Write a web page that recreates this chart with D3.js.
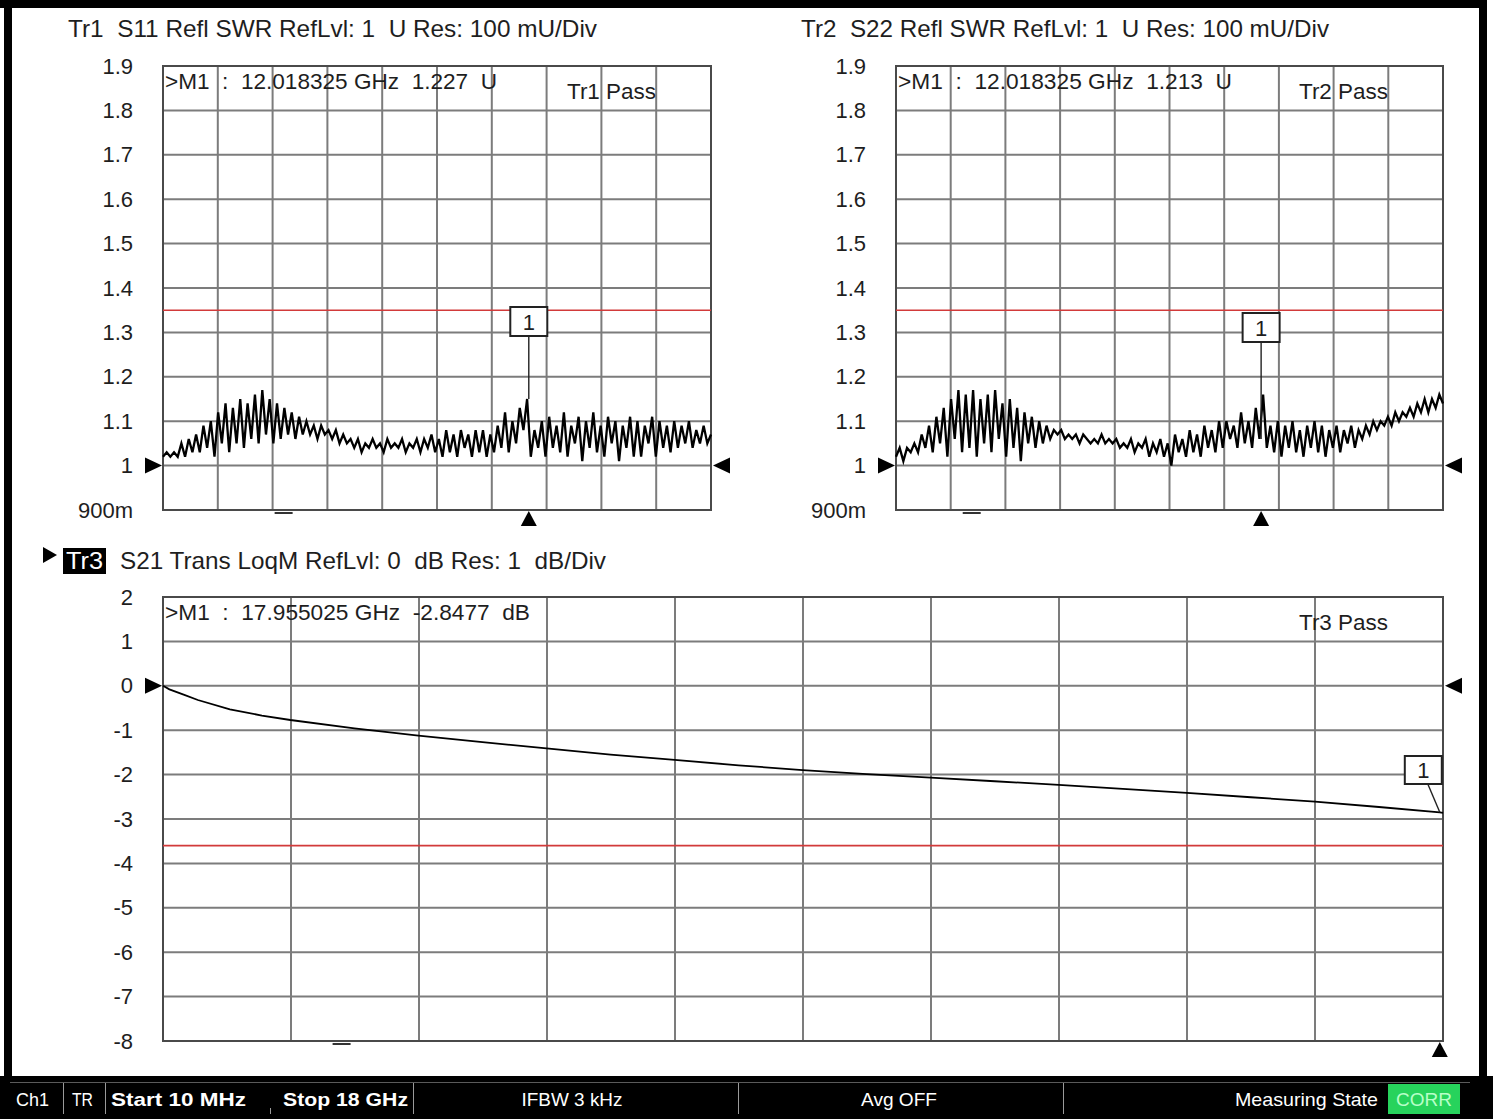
<!DOCTYPE html>
<html>
<head>
<meta charset="utf-8">
<script src="https://cdn.jsdelivr.net/npm/d3@7"></script>
<style>
body { margin: 0; background: #fff; }
svg { display: block; font-family: "Liberation Sans", Arial, sans-serif; }
text { white-space: pre; }
</style>
</head>
<body>
<div id="chart"></div>
<script>
/* sweep */
const START_GHZ = 0.01;
const STOP_GHZ = 18;

/* y axis ticks */
const swr_ticks = [1.9, 1.8, 1.7, 1.6, 1.5, 1.4, 1.3, 1.2, 1.1, 1.0, 0.9];
const swr_labels = ['1.9', '1.8', '1.7', '1.6', '1.5', '1.4', '1.3', '1.2', '1.1', '1', '900m'];
const db_ticks = [2, 1, 0, -1, -2, -3, -4, -5, -6, -7, -8];
const db_labels = ['2', '1', '0', '-1', '-2', '-3', '-4', '-5', '-6', '-7', '-8'];

/* S11 SWR, 150 sweep points */
const s11_swr = [
  1.02, 1.03, 1.02, 1.03, 1.02, 1.05, 1.02, 1.06, 1.03, 1.07,
  1.03, 1.09, 1.04, 1.10, 1.02, 1.12, 1.05, 1.14, 1.03, 1.13,
  1.05, 1.15, 1.04, 1.14, 1.06, 1.16, 1.05, 1.17, 1.07, 1.15,
  1.05, 1.14, 1.06, 1.13, 1.07, 1.12, 1.06, 1.11, 1.07, 1.10,
  1.07, 1.09, 1.06, 1.09, 1.07, 1.08, 1.06, 1.08, 1.05, 1.07,
  1.05, 1.06, 1.04, 1.06, 1.03, 1.05, 1.04, 1.06, 1.04, 1.05,
  1.03, 1.06, 1.04, 1.05, 1.04, 1.06, 1.03, 1.05, 1.04, 1.06,
  1.03, 1.06, 1.04, 1.07, 1.03, 1.06, 1.02, 1.08, 1.03, 1.07,
  1.02, 1.08, 1.04, 1.07, 1.02, 1.08, 1.03, 1.08, 1.02, 1.07,
  1.03, 1.09, 1.04, 1.12, 1.03, 1.10, 1.05, 1.13, 1.08, 1.15,
  1.02, 1.08, 1.04, 1.10, 1.02, 1.11, 1.04, 1.09, 1.03, 1.12,
  1.02, 1.09, 1.05, 1.11, 1.01, 1.10, 1.04, 1.12, 1.03, 1.09,
  1.02, 1.11, 1.05, 1.10, 1.01, 1.09, 1.04, 1.11, 1.02, 1.10,
  1.02, 1.09, 1.05, 1.11, 1.02, 1.10, 1.04, 1.09, 1.03, 1.10,
  1.04, 1.09, 1.05, 1.10, 1.04, 1.08, 1.05, 1.09, 1.05, 1.07
];

/* S22 SWR, 150 sweep points */
const s22_swr = [
  1.02, 1.04, 1.01, 1.04, 1.03, 1.05, 1.03, 1.07, 1.04, 1.09,
  1.03, 1.11, 1.05, 1.13, 1.02, 1.15, 1.06, 1.17, 1.03, 1.16,
  1.04, 1.17, 1.02, 1.15, 1.05, 1.16, 1.03, 1.17, 1.06, 1.14,
  1.02, 1.15, 1.04, 1.13, 1.01, 1.12, 1.05, 1.11, 1.04, 1.10,
  1.05, 1.09, 1.06, 1.08, 1.07, 1.08, 1.06, 1.07, 1.06, 1.07,
  1.05, 1.07, 1.06, 1.05, 1.06, 1.05, 1.07, 1.05, 1.06, 1.05,
  1.06, 1.04, 1.05, 1.04, 1.06, 1.03, 1.05, 1.04, 1.06, 1.02,
  1.05, 1.03, 1.06, 1.02, 1.05, 1.00, 1.07, 1.03, 1.06, 1.02,
  1.08, 1.03, 1.07, 1.02, 1.09, 1.04, 1.08, 1.03, 1.10, 1.04,
  1.10, 1.06, 1.09, 1.04, 1.12, 1.05, 1.10, 1.04, 1.13, 1.06,
  1.16, 1.04, 1.09, 1.03, 1.10, 1.02, 1.09, 1.04, 1.10, 1.03,
  1.08, 1.02, 1.09, 1.04, 1.10, 1.03, 1.09, 1.02, 1.08, 1.04,
  1.09, 1.03, 1.08, 1.05, 1.09, 1.04, 1.08, 1.06, 1.09, 1.07,
  1.10, 1.08, 1.10, 1.09, 1.11, 1.09, 1.12, 1.10, 1.12, 1.11,
  1.13, 1.11, 1.14, 1.12, 1.15, 1.12, 1.15, 1.13, 1.16, 1.14
];

/* S21 LogMag */
const s21_freq = [0.01, 0.1, 0.3, 0.5, 0.95, 1.4, 1.8, 2.7, 3.6, 4.5, 5.4, 6.3, 7.2,
                  8.1, 9.0, 9.9, 10.8, 11.7, 12.6, 13.5, 14.4, 15.3, 16.2, 17.1, 17.955, 18];
const s21_db = [0, -0.08, -0.2, -0.32, -0.53, -0.67, -0.77, -0.96, -1.12, -1.27, -1.41, -1.55, -1.67,
                -1.79, -1.9, -1.99, -2.07, -2.15, -2.23, -2.32, -2.41, -2.51, -2.61, -2.73, -2.85, -2.86];

/* limit lines */
const limit_values = [1.35, 1.35, -3.6];

/* markers */
const marker_freq = [12.018325, 12.018325, 17.955025];
const marker_text = ['>M1  :  12.018325 GHz  1.227  U', '>M1  :  12.018325 GHz  1.213  U',
                     '>M1  :  17.955025 GHz  -2.8477  dB'];
const dash_freq = [3.97, 2.5, 2.52];
const pass_text = ['Tr1 Pass', 'Tr2 Pass', 'Tr3 Pass'];
const titles = ['Tr1  S11 Refl SWR RefLvl: 1  U Res: 100 mU/Div',
                'Tr2  S22 Refl SWR RefLvl: 1  U Res: 100 mU/Div',
                'S21 Trans LoqM RefLvl: 0  dB Res: 1  dB/Div'];
const ref_levels = [1, 1, 0];

const status_items = ['Ch1', 'TR', 'Start 10 MHz', 'Stop 18 GHz', 'IFBW 3 kHz', 'Avg OFF', 'Measuring State', 'CORR'];

const W = 1493, H = 1119;
const svg = d3.select('#chart').append('svg').attr('width', W).attr('height', H);
svg.append('rect').attr('width', W).attr('height', H).attr('fill', '#fff');

const sweep = d3.range(150).map(i => START_GHZ + i * (STOP_GHZ - START_GHZ) / 149);

let panels = [
  {left: 163, right: 711, top: 66, bottom: 510, domain: [0.9, 1.9], ticks: swr_ticks, labels: swr_labels,
   freq: sweep, vals: s11_swr, sw: 2.3, titleX: 68, titleW: 529, textX: 165, textW: 332, passX: 567, boxY: 307},
  {left: 896, right: 1443, top: 66, bottom: 510, domain: [0.9, 1.9], ticks: swr_ticks, labels: swr_labels,
   freq: sweep, vals: s22_swr, sw: 2.3, titleX: 801, titleW: 528, textX: 898, textW: 334, passX: 1299, boxY: 313},
  {left: 163, right: 1443, top: 597, bottom: 1041, domain: [-8, 2], ticks: db_ticks, labels: db_labels,
   freq: s21_freq, vals: s21_db, sw: 1.8, titleX: 120, titleW: 486, textX: 165, textW: 365, passX: 1299, boxY: 756}
];

const GRID = '#7c7c7c';
const TXT = '#1e1e1e';

const drawPanel = (p, k) => {
  let x = d3.scaleLinear().domain([START_GHZ, STOP_GHZ]).range([p.left, p.right]);
  let y = d3.scaleLinear().domain(p.domain).range([p.bottom, p.top]);
  let g = svg.append('g');

  // grid
  let vx = d3.range(11).map(i => START_GHZ + i * (STOP_GHZ - START_GHZ) / 10);
  g.selectAll('.vg').data(vx).enter().append('line')
    .attr('x1', d => x(d)).attr('x2', d => x(d)).attr('y1', p.top).attr('y2', p.bottom)
    .attr('stroke', GRID).attr('stroke-width', 2);
  g.selectAll('.hg').data(p.ticks).enter().append('line')
    .attr('x1', p.left).attr('x2', p.right).attr('y1', d => y(d)).attr('y2', d => y(d))
    .attr('stroke', GRID).attr('stroke-width', 2);
  g.append('rect').attr('x', p.left).attr('y', p.top)
    .attr('width', p.right - p.left).attr('height', p.bottom - p.top)
    .attr('fill', 'none').attr('stroke', '#4a4a4a').attr('stroke-width', 2);

  // y labels
  let ax = d3.axisLeft(y).tickValues(p.ticks)
    .tickFormat((d, i) => p.labels[i]).tickSize(0).tickPadding(30);
  let ag = svg.append('g').attr('transform', 'translate(' + p.left + ',0)').call(ax);
  ag.select('.domain').remove();
  ag.selectAll('text').attr('font-size', 22).attr('fill', TXT)
    .attr('font-family', '"Liberation Sans", Arial, sans-serif');

  // limit line
  g.append('line').attr('x1', p.left).attr('x2', p.right)
    .attr('y1', y(limit_values[k])).attr('y2', y(limit_values[k]))
    .attr('stroke', '#d23a3a').attr('stroke-width', 1.6);

  // trace
  let line = d3.line().x((d, i) => x(p.freq[i])).y(d => y(d));
  g.append('path').attr('d', line(p.vals)).attr('fill', 'none')
    .attr('stroke', '#000').attr('stroke-width', p.sw).attr('stroke-linejoin', 'miter');

  // readouts
  g.append('text').attr('x', p.textX).attr('y', p.top + 23).text(marker_text[k])
    .attr('font-size', 22).attr('fill', TXT)
    .attr('textLength', p.textW).attr('lengthAdjust', 'spacingAndGlyphs');
  g.append('text').attr('x', p.passX).attr('y', p.top + 33).text(pass_text[k])
    .attr('font-size', 22).attr('fill', TXT)
    .attr('textLength', 89).attr('lengthAdjust', 'spacingAndGlyphs');

  // reference level triangles
  let ry = y(ref_levels[k]);
  g.append('path').attr('d', d3.line()([[p.left - 18, ry - 8], [p.left - 1, ry], [p.left - 18, ry + 8]]) + 'Z')
    .attr('fill', '#000');
  g.append('path').attr('d', d3.line()([[p.right + 19, ry - 8], [p.right + 2, ry], [p.right + 19, ry + 8]]) + 'Z')
    .attr('fill', '#000');

  // marker position triangle
  let mx = x(marker_freq[k]);
  g.append('path').attr('d', d3.line()([[mx - 8, p.bottom + 16], [mx, p.bottom + 1], [mx + 8, p.bottom + 16]]) + 'Z')
    .attr('fill', '#000');

  // small dash under the grid
  g.append('line').attr('x1', x(dash_freq[k]) - 9).attr('x2', x(dash_freq[k]) + 9)
    .attr('y1', p.bottom + 3).attr('y2', p.bottom + 3)
    .attr('stroke', '#333').attr('stroke-width', 2);

  // marker flag
  let idx = d3.minIndex(p.freq, f => Math.abs(f - marker_freq[k]));
  let my = (k === 2) ? y(-2.8477) : y(p.vals[idx]);
  let bx = (k === 2) ? mx - 35 : mx - 18.5;
  let bw = 37, bh = (k === 2) ? 28 : 29;
  let lx = (k === 2) ? bx + 23 : mx;
  g.append('line').attr('x1', lx).attr('x2', mx).attr('y1', p.boxY + bh).attr('y2', my)
    .attr('stroke', '#222').attr('stroke-width', 1.4);
  g.append('rect').attr('x', bx).attr('y', p.boxY).attr('width', bw).attr('height', bh)
    .attr('fill', '#fff').attr('stroke', '#222').attr('stroke-width', 2);
  g.append('text').attr('x', bx + bw / 2).attr('y', p.boxY + bh / 2 + 8)
    .attr('text-anchor', 'middle').attr('font-size', 22).attr('fill', TXT).text('1');
};

panels.forEach(drawPanel);

/* titles */
svg.append('text').attr('x', panels[0].titleX).attr('y', 37).text(titles[0])
  .attr('font-size', 24).attr('fill', TXT)
  .attr('textLength', panels[0].titleW).attr('lengthAdjust', 'spacingAndGlyphs');
svg.append('text').attr('x', panels[1].titleX).attr('y', 37).text(titles[1])
  .attr('font-size', 24).attr('fill', TXT)
  .attr('textLength', panels[1].titleW).attr('lengthAdjust', 'spacingAndGlyphs');
svg.append('path').attr('d', d3.line()([[43, 547], [57, 555], [43, 563]]) + 'Z').attr('fill', '#000');
svg.append('rect').attr('x', 63).attr('y', 548).attr('width', 43).attr('height', 26).attr('fill', '#000');
svg.append('text').attr('x', 84.5).attr('y', 569).attr('text-anchor', 'middle').text('Tr3')
  .attr('font-size', 23).attr('fill', '#fff').attr('textLength', 37).attr('lengthAdjust', 'spacingAndGlyphs');
svg.append('text').attr('x', panels[2].titleX).attr('y', 569).text(titles[2])
  .attr('font-size', 24).attr('fill', TXT)
  .attr('textLength', panels[2].titleW).attr('lengthAdjust', 'spacingAndGlyphs');

/* window frame */
svg.append('rect').attr('x', 0).attr('y', 0).attr('width', 1487).attr('height', 8).attr('fill', '#000');
svg.append('rect').attr('x', 4).attr('y', 0).attr('width', 8).attr('height', 1080).attr('fill', '#000');
svg.append('rect').attr('x', 1479).attr('y', 0).attr('width', 8).attr('height', 1080).attr('fill', '#000');

/* status bar */
svg.append('rect').attr('x', 0).attr('y', 1076).attr('width', W).attr('height', H - 1076).attr('fill', '#000');
svg.append('line').attr('x1', 10).attr('x2', 1470).attr('y1', 1082.5).attr('y2', 1082.5)
  .attr('stroke', '#5a5a5a').attr('stroke-width', 1);
const seps = [63, 105, 413, 738, 1063];
svg.selectAll('.sep').data(seps).enter().append('line')
  .attr('x1', d => d + 0.5).attr('x2', d => d + 0.5).attr('y1', 1083).attr('y2', 1114)
  .attr('stroke', '#9a9a9a').attr('stroke-width', 1);
svg.append('line').attr('x1', 270.5).attr('x2', 270.5).attr('y1', 1108).attr('y2', 1114)
  .attr('stroke', '#9a9a9a').attr('stroke-width', 1);
svg.append('rect').attr('x', 1388).attr('y', 1084).attr('width', 72).attr('height', 30).attr('fill', '#27d35c');

const status_pos = [
  {x: 16, anchor: 'start', bold: false, w: 33},
  {x: 72, anchor: 'start', bold: false, w: 21},
  {x: 111, anchor: 'start', bold: true, w: 135},
  {x: 283, anchor: 'start', bold: true, w: 125},
  {x: 572, anchor: 'middle', bold: false, w: 101},
  {x: 899, anchor: 'middle', bold: false, w: 76},
  {x: 1378, anchor: 'end', bold: false, w: 143},
  {x: 1424, anchor: 'middle', bold: false, w: 56}
];
status_items.forEach((s, i) => {
  let sp = status_pos[i];
  svg.append('text').attr('x', sp.x).attr('y', 1106).text(s)
    .attr('text-anchor', sp.anchor).attr('font-size', 19)
    .attr('font-weight', sp.bold ? 'bold' : 'normal')
    .attr('fill', i === 7 ? '#b8ffc8' : '#fff')
    .attr('textLength', sp.w).attr('lengthAdjust', 'spacingAndGlyphs');
});
</script>
</body>
</html>
